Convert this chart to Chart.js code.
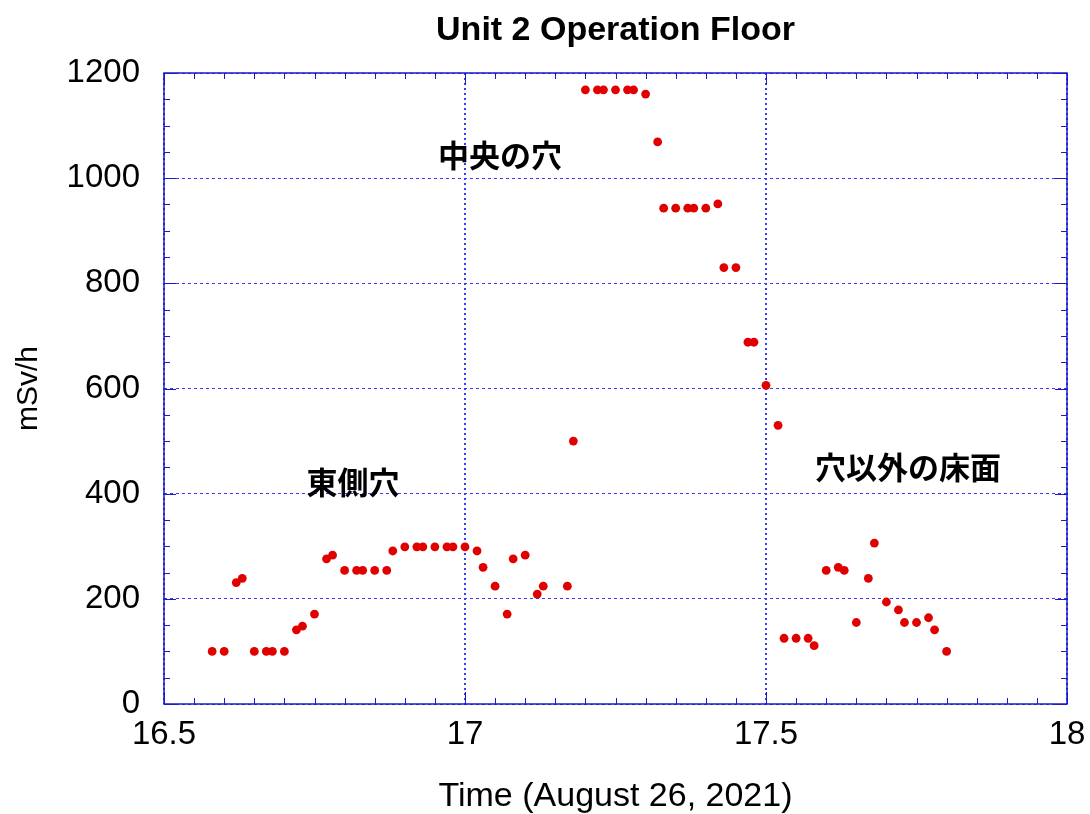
<!DOCTYPE html>
<html>
<head>
<meta charset="utf-8">
<script src="https://cdn.jsdelivr.net/npm/chart.js@4.4.1/dist/chart.umd.min.js"></script>
<style>
  body { margin: 0; background: #fff; }
  #wrap { width: 1090px; height: 814px; }
</style>
</head>
<body>
<div id="wrap"><canvas id="doseChart" width="1090" height="814"></canvas></div>
<script>
// time of day (hours) and dose rate (mSv/h)
var times = [16.58, 16.60, 16.62, 16.63, 16.65, 16.67, 16.68, 16.70, 16.72, 16.73,
             16.75, 16.77, 16.78, 16.80, 16.82, 16.83, 16.85, 16.87, 16.88, 16.90,
             16.92, 16.93, 16.95, 16.97, 16.98, 17.00, 17.02, 17.03, 17.05, 17.07,
             17.08, 17.10, 17.12, 17.13, 17.17, 17.18, 17.20, 17.22, 17.23, 17.25,
             17.27, 17.28, 17.30, 17.32, 17.33, 17.35, 17.37, 17.38, 17.40, 17.42,
             17.43, 17.45, 17.47, 17.48, 17.50, 17.52, 17.53, 17.55, 17.57, 17.58,
             17.60, 17.62, 17.63, 17.65, 17.67, 17.68, 17.70, 17.72, 17.73, 17.75,
             17.77, 17.78, 17.80];
var dose = [100, 100, 231, 239, 100, 100, 100, 100, 141, 148,
            171, 276, 283, 254, 254, 254, 254, 254, 291, 299,
            299, 299, 299, 299, 299, 299, 291, 260, 224, 171,
            276, 283, 209, 224, 224, 500, 1168, 1168, 1168, 1168,
            1168, 1168, 1160, 1069, 943, 943, 943, 943, 943, 951,
            830, 830, 688, 688, 606, 530, 125, 125, 125, 111,
            254, 260, 254, 155, 239, 306, 194, 179, 155, 155,
            164, 141, 100];

// area labels (text, time, dose)
var areaText = ['東側穴', '中央の穴', '穴以外の床面'];
var areaX = [16.814, 17.058, 17.736];
var areaY = [422, 1044, 451];

var chartTitle = 'Unit 2 Operation Floor';

var blue = '#1a1acc';
var gridBlue = '#3a3aff';
var sans = '"Liberation Sans", Arial, sans-serif';

var points = [];
for (var i = 0; i < times.length; i++) points.push({x: times[i], y: dose[i]});

// box frame + inward ticks on all four sides, the area labels and the title
var framePlugin = {
  id: 'frame',
  afterDatasetsDraw: function (chart) {
    var c = chart.ctx, a = chart.chartArea;
    var xs = chart.scales.x, ys = chart.scales.y;
    c.save();
    c.strokeStyle = blue;
    c.lineWidth = 1.5;
    c.strokeRect(a.left, a.top, a.right - a.left, a.bottom - a.top);
    c.lineWidth = 1;
    c.beginPath();
    for (var k = 0; k <= 30; k++) {
      var px = Math.round(xs.getPixelForValue(16.5 + k * 0.05)) + 0.5;
      var len = (k % 10 === 0) ? 12 : 6;
      c.moveTo(px, a.bottom); c.lineTo(px, a.bottom - len);
      c.moveTo(px, a.top); c.lineTo(px, a.top + len);
    }
    for (var j = 0; j <= 24; j++) {
      var py = Math.round(ys.getPixelForValue(j * 50)) + 0.5;
      var l2 = (j % 4 === 0) ? 12 : 6;
      c.moveTo(a.left, py); c.lineTo(a.left + l2, py);
      c.moveTo(a.right, py); c.lineTo(a.right - l2, py);
    }
    c.stroke();

    c.fillStyle = '#000';
    c.textAlign = 'center';
    c.textBaseline = 'middle';
    c.font = 'bold 31px "Noto Sans CJK JP", sans-serif';
    for (var n = 0; n < areaText.length; n++) {
      c.fillText(areaText[n], xs.getPixelForValue(areaX[n]), ys.getPixelForValue(areaY[n]));
    }
    c.font = 'bold 34px ' + sans;
    c.fillText(chartTitle, (a.left + a.right) / 2, 31);
    c.restore();
  }
};

new Chart(document.getElementById('doseChart'), {
  type: 'scatter',
  data: {
    datasets: [{
      data: points,
      pointRadius: 4.4,
      pointHoverRadius: 4.4,
      pointBackgroundColor: '#e00000',
      pointBorderWidth: 0
    }]
  },
  options: {
    responsive: false,
    animation: false,
    layout: { padding: { top: 73, right: 23, left: 0, bottom: 0 } },
    plugins: {
      legend: { display: false },
      tooltip: { enabled: false }
    },
    scales: {
      x: {
        type: 'linear',
        min: 16.5,
        max: 18,
        afterFit: function (s) { s.height = 110; s.paddingLeft = 0; s.paddingRight = 0; },
        ticks: {
          stepSize: 0.5,
          color: '#000',
          padding: 11,
          maxRotation: 0,
          font: { family: sans, size: 33 },
          callback: function (v) { return String(v); }
        },
        grid: { color: gridBlue, lineWidth: 2, drawTicks: false },
        border: { display: false, dash: [2, 3] },
        title: {
          display: true,
          text: 'Time (August 26, 2021)',
          color: '#000',
          font: { family: sans, size: 34, lineHeight: 1 },
          padding: { top: 1, bottom: 0 }
        }
      },
      y: {
        min: 0,
        max: 1200,
        afterFit: function (s) { s.width = 164; s.paddingTop = 0; s.paddingBottom = 0; },
        ticks: {
          stepSize: 200,
          color: '#000',
          padding: 24,
          font: { family: sans, size: 33 },
          callback: function (v) { return String(v); }
        },
        grid: { color: gridBlue, lineWidth: 1, drawTicks: false },
        border: { display: false, dash: [3, 3] },
        title: {
          display: true,
          text: 'mSv/h',
          color: '#000',
          font: { family: sans, size: 30, lineHeight: 1 },
          padding: { top: 14, bottom: 0 }
        }
      }
    }
  },
  plugins: [framePlugin]
});
</script>
</body>
</html>
